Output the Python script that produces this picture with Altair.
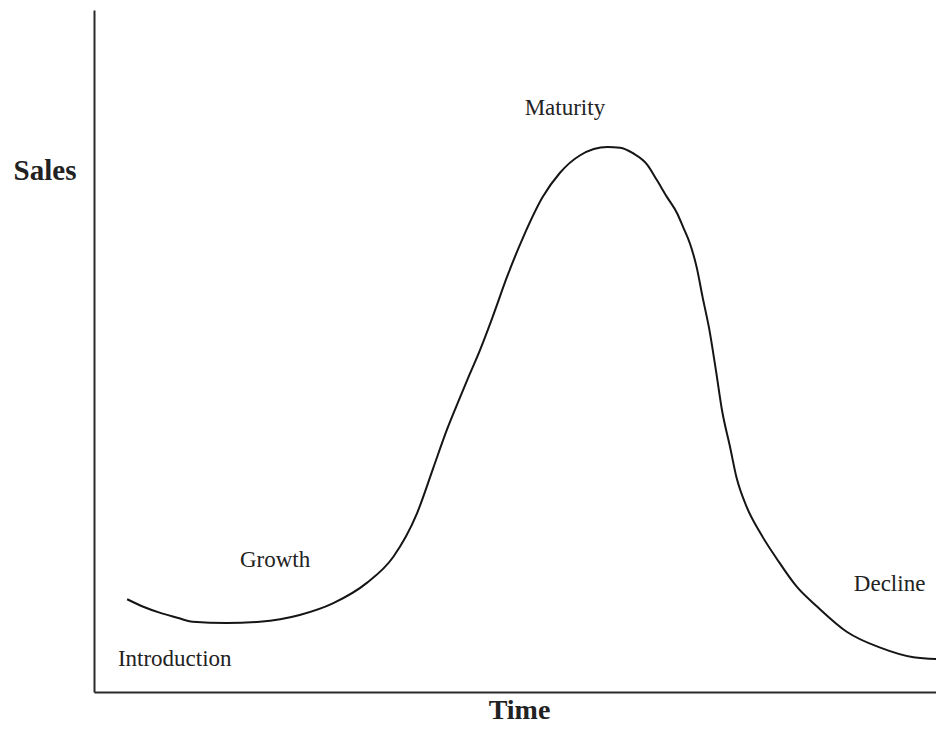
import altair as alt
import pandas as pd

# Product life cycle curve (time vs sales, arbitrary units 0-100)
time_vals = [3.9, 5.8, 7.8, 9.8, 11.6, 15.6, 19.5, 24.2, 28.1, 32.1, 35.2, 38.0,
             39.9, 41.5, 43.1, 44.2, 45.4, 46.9, 48.6, 50.5, 52.8, 54.8, 57.2,
             60.4, 61.9, 63.4, 65.1, 66.2, 67.4, 68.6, 69.3, 70.1, 70.9, 71.6,
             72.4, 73.2, 73.9, 74.8, 75.6, 76.8, 78.4, 80.4, 82.7, 85.1, 88.6,
             92.5, 96.4, 99.9]
sales_vals = [13.6, 12.5, 11.6, 10.9, 10.3, 10.1, 10.3, 11.3, 13.0, 16.0, 19.8, 26.2,
              32.8, 38.4, 43.3, 46.6, 50.1, 55.0, 60.9, 66.7, 72.6, 76.1, 78.7,
              79.9, 79.8, 79.0, 77.3, 75.1, 72.6, 70.2, 68.2, 65.8, 62.3, 57.9,
              53.1, 46.9, 41.2, 36.1, 31.4, 27.1, 23.3, 19.4, 15.4, 12.5, 8.8,
              6.5, 5.1, 4.8]

stage_labels = ["Introduction", "Growth", "Maturity", "Decline"]
stage_time = [9.5, 21.3, 55.4, 93.6]
stage_sales = [3.8, 18.3, 84.6, 14.8]

curve_df = pd.DataFrame({"time": time_vals, "sales": sales_vals})
label_df = pd.DataFrame({"label": stage_labels, "time": stage_time, "sales": stage_sales})

x_scale = alt.Scale(domain=[0, 99.06], nice=False, zero=False)
y_scale = alt.Scale(domain=[0, 100], nice=False, zero=False)

x_axis = alt.Axis(title="Time", ticks=False, labels=False, grid=False,
                  domainColor="#2a2a2a", domainWidth=2,
                  titleFont="Liberation Serif", titleFontSize=28, titleFontWeight="bold",
                  titleColor="#222222", titleX=425, titleY=26,
                  titleAlign="center", titleBaseline="alphabetic")
y_axis = alt.Axis(title="Sales", ticks=False, labels=False, grid=False,
                  domainColor="#2a2a2a", domainWidth=2,
                  titleFont="Liberation Serif", titleFontSize=29, titleFontWeight="bold",
                  titleColor="#222222", titleAngle=0, titleX=-49.5, titleY=169,
                  titleAlign="center", titleBaseline="alphabetic")

line = alt.Chart(curve_df).mark_line(
    interpolate="monotone", color="#151515", strokeWidth=2, clip=False
).encode(
    x=alt.X("time:Q", scale=x_scale, axis=x_axis),
    y=alt.Y("sales:Q", scale=y_scale, axis=y_axis),
)

labels = alt.Chart(label_df).mark_text(
    font="Liberation Serif", fontSize=23, color="#222222",
    align="center", baseline="alphabetic"
).encode(
    x=alt.X("time:Q", scale=x_scale, axis=x_axis),
    y=alt.Y("sales:Q", scale=y_scale, axis=y_axis),
    text="label:N",
)

chart = alt.layer(line, labels).properties(
    width=842, height=682,
    background="white",
    autosize=alt.AutoSizeParams(type="none"),
    padding={"left": 86, "top": 2, "right": 0, "bottom": 33},
).configure_view(strokeWidth=0, stroke="transparent").configure_axis(grid=False)

chart.save("out.html", embed_options={"renderer": "svg", "actions": False})
